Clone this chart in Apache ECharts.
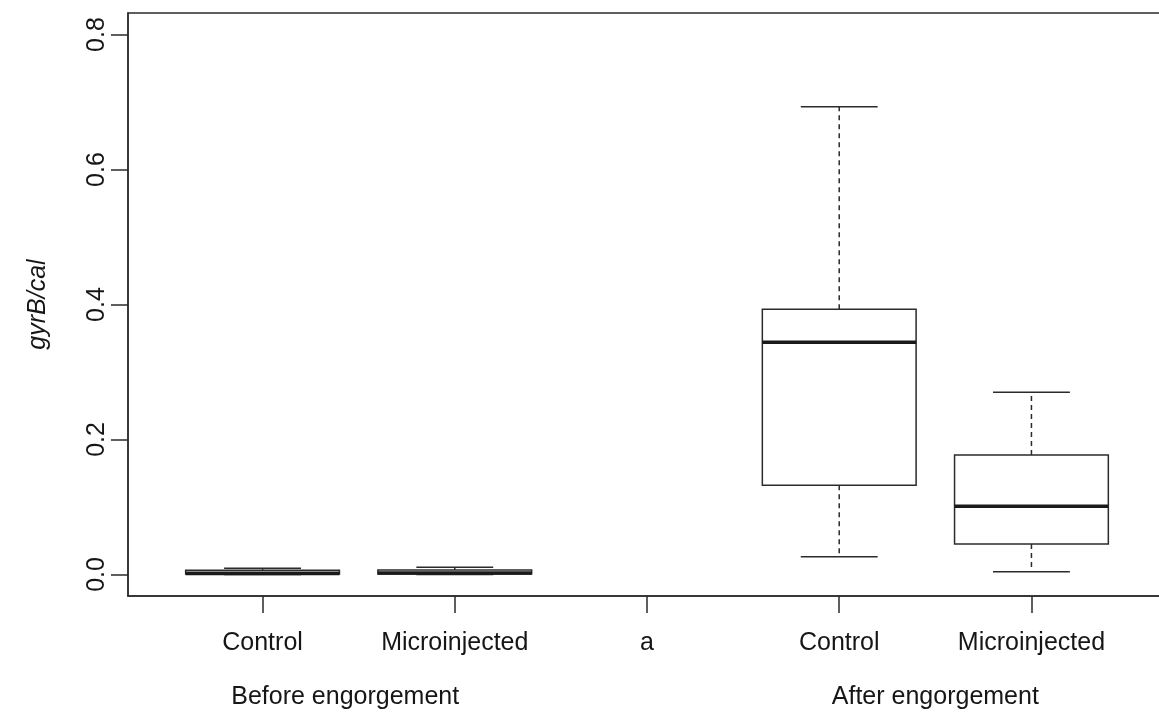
<!DOCTYPE html>
<html>
<head>
<meta charset="utf-8">
<title>gyrB/cal</title>
<script src="https://cdn.jsdelivr.net/npm/echarts@6/dist/echarts.min.js"></script>
<style>
  html, body { margin: 0; padding: 0; background: #ffffff; }
  #chart { width: 1159px; height: 716px; }
</style>
</head>
<body>
<div id="chart"></div>
<script>
// Axis labels along x (position 3 is an empty slot labelled "a")
const categories = ['Control', 'Microinjected', 'a', 'Control', 'Microinjected'];
const groupLabels = ['Before engorgement', 'After engorgement'];
const groupPositions = [1.43, 4.5];
const yTicks = [0, 0.2, 0.4, 0.6, 0.8];

// Box statistics per group: [lower whisker, Q1, median, Q3, upper whisker]
const beforeControl = [0.0, 0.0005, 0.0015, 0.006, 0.009];
const beforeMicroinjected = [0.0, 0.0005, 0.002, 0.0065, 0.0105];
const afterControl = [0.026, 0.132, 0.344, 0.393, 0.693];
const afterMicroinjected = [0.004, 0.045, 0.101, 0.177, 0.270];

const boxPositions = [1, 2, 4, 5];
const boxStats = [beforeControl, beforeMicroinjected, afterControl, afterMicroinjected];

const BOX_WIDTH = 0.8;           // in x-axis units
const INK = '#2b2b2b';
const TEXT = '#161616';
const FONT = '"Liberation Sans", Arial, Helvetica, sans-serif';
const FONT_SIZE = 25;

const boxData = boxPositions.map((p, i) => [p].concat(boxStats[i]));

function renderBox(params, api) {
  const x = api.value(0);
  const lo = api.value(1), q1 = api.value(2), med = api.value(3), q3 = api.value(4), hi = api.value(5);
  const halfBox = api.size([BOX_WIDTH, 0])[0] / 2;
  const halfCap = halfBox / 2;
  const cx = api.coord([x, 0])[0];
  const y = v => api.coord([x, v])[1];
  const solid = { stroke: INK, lineWidth: 1.5, fill: null };
  const dashed = { stroke: INK, lineWidth: 1.5, lineDash: [5, 4], fill: null };
  return {
    type: 'group',
    children: [
      { type: 'line', shape: { x1: cx, y1: y(q3), x2: cx, y2: y(hi) }, style: dashed },
      { type: 'line', shape: { x1: cx, y1: y(q1), x2: cx, y2: y(lo) }, style: dashed },
      { type: 'line', shape: { x1: cx - halfCap, y1: y(hi), x2: cx + halfCap, y2: y(hi) }, style: solid },
      { type: 'line', shape: { x1: cx - halfCap, y1: y(lo), x2: cx + halfCap, y2: y(lo) }, style: solid },
      { type: 'rect', shape: { x: cx - halfBox, y: y(q3), width: halfBox * 2, height: y(q1) - y(q3) },
        style: { stroke: INK, lineWidth: 1.5, fill: '#ffffff' } },
      { type: 'line', shape: { x1: cx - halfBox, y1: y(med), x2: cx + halfBox, y2: y(med) },
        style: { stroke: '#1a1a1a', lineWidth: 3.6 } }
    ]
  };
}

const chart = echarts.init(document.getElementById('chart'), null, { renderer: 'canvas' });

chart.setOption({
  animation: false,
  backgroundColor: '#ffffff',
  grid: {
    left: 128, right: -7, top: 13, bottom: 120,
    containLabel: false,
    outerBoundsMode: 'none',
    show: true,
    borderColor: INK,
    borderWidth: 1.5,
    backgroundColor: 'transparent'
  },
  xAxis: [
    {
      type: 'value',
      min: 0.3, max: 5.7,
      splitLine: { show: false },
      axisLine: { show: true, onZero: false, lineStyle: { color: INK, width: 1.5 } },
      axisTick: { show: true, length: 17, customValues: [1, 2, 3, 4, 5],
                  lineStyle: { color: INK, width: 1.5 } },
      axisLabel: {
        customValues: [1, 2, 3, 4, 5],
        formatter: v => categories[Math.round(v) - 1] || '',
        margin: 35,
        color: TEXT,
        fontSize: FONT_SIZE,
        fontFamily: FONT
      }
    },
    {
      type: 'value',
      position: 'bottom',
      min: 0.3, max: 5.7,
      splitLine: { show: false },
      axisLine: { show: false, onZero: false },
      axisTick: { show: false },
      axisLabel: {
        customValues: groupPositions,
        formatter: v => {
          const i = groupPositions.findIndex(p => Math.abs(p - v) < 1e-6);
          return i >= 0 ? groupLabels[i] : '';
        },
        margin: 89,
        color: TEXT,
        fontSize: FONT_SIZE,
        fontFamily: FONT
      }
    }
  ],
  yAxis: {
    type: 'value',
    min: -0.032, max: 0.832,
    name: 'gyrB/cal',
    nameLocation: 'middle',
    nameRotate: 90,
    nameGap: 77,
    nameTextStyle: { fontSize: FONT_SIZE, fontStyle: 'italic', color: TEXT, fontFamily: FONT },
    splitLine: { show: false },
    axisLine: { show: true, onZero: false, lineStyle: { color: INK, width: 1.5 } },
    axisTick: { show: true, length: 17, customValues: yTicks, lineStyle: { color: INK, width: 1.5 } },
    axisLabel: {
      customValues: yTicks,
      rotate: 90,
      margin: 18,
      formatter: v => v.toFixed(1),
      color: TEXT,
      fontSize: FONT_SIZE,
      fontFamily: FONT
    }
  },
  series: [{
    type: 'custom',
    renderItem: renderBox,
    data: boxData,
    encode: { x: 0, y: [1, 2, 3, 4, 5] },
    clip: false
  }]
});
</script>
</body>
</html>
